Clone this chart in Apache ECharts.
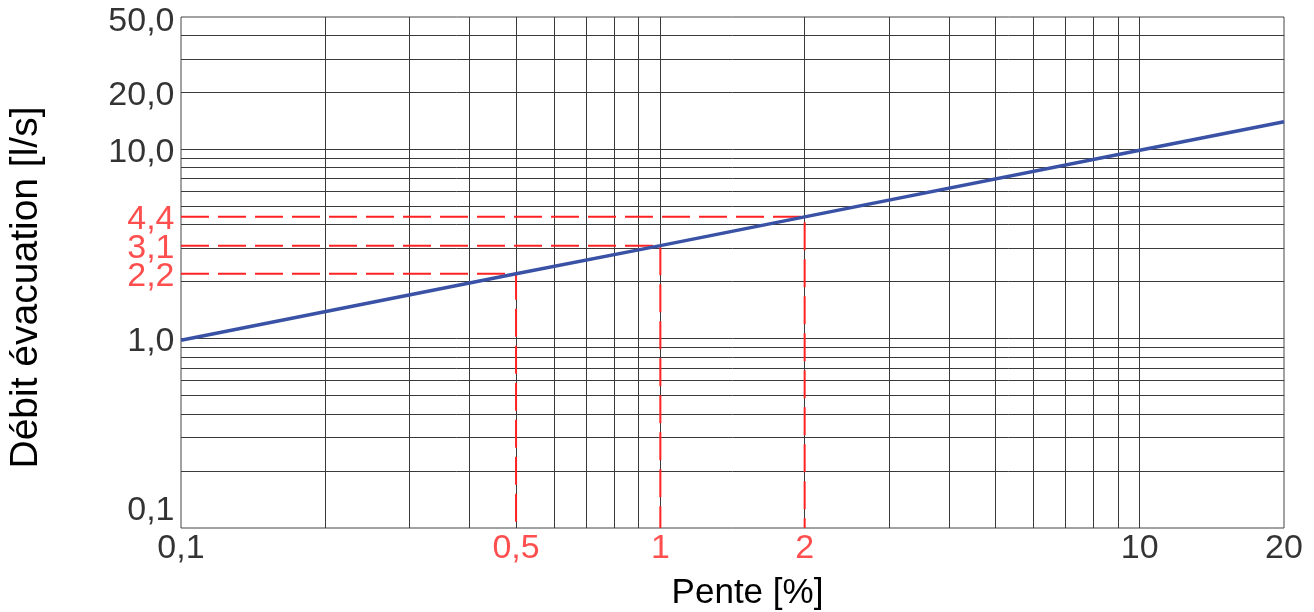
<!DOCTYPE html>
<html>
<head>
<meta charset="utf-8">
<script src="https://cdn.jsdelivr.net/npm/echarts@6/dist/echarts.min.js"></script>
<style>html,body{margin:0;padding:0;background:#fff}#c{width:1314px;height:612px}</style>
</head>
<body>
<div id="c"></div>
<script>
// ---- data ----
const slope = [0.1, 0.5, 1, 2, 10, 20];          // Pente [%]
const flow  = [0.98, 2.2, 3.1, 4.4, 9.9, 14.0];  // Débit évacuation [l/s]
const guideX = [0.5, 1, 2];
const guideY = [2.2, 3.1, 4.4];
const xTicks = [0.1, 0.5, 1, 2, 10, 20];
const xTickLabels = ['0,1', '0,5', '1', '2', '10', '20'];
const yTicks = [0.1, 1, 2.2, 3.1, 4.4, 10, 20, 50];
const yTickLabels = ['0,1', '1,0', '2,2', '3,1', '4,4', '10,0', '20,0', '50,0'];
const xGrid = [0.2, 0.3, 0.4, 0.5, 0.6, 0.7, 0.8, 0.9, 1, 2, 3, 4, 5, 6, 7, 8, 9, 10];
const yGrid = [0.2, 0.3, 0.4, 0.5, 0.6, 0.7, 0.8, 0.9, 1, 2, 3, 4, 5, 6, 7, 8, 9, 10, 20, 30, 40];
const xRange = [0.1, 20];
const yRange = [0.1, 50];

// ---- styles ----
const FONT = "'Liberation Sans', Arial, sans-serif";
const RED = '#FF2222';
const BLUE = '#3A52A6';
const GRIDC = '#3a3a3a';

const chart = echarts.init(document.getElementById('c'), null, {renderer: 'canvas'});

const series = [];

// grid lines
series.push({
  type: 'line', z: 1, data: [[xRange[0], yRange[0]]], symbol: 'none', lineStyle: {opacity: 0}, silent: true,
  markLine: {
    silent: true, symbol: ['none', 'none'], label: {show: false}, z: 1,
    lineStyle: {type: 'solid', color: GRIDC, width: 1},
    data: xGrid.map(v => ({xAxis: v})).concat(yGrid.map(v => ({yAxis: v})))
  }
});

// red guides
guideX.forEach((gx, i) => {
  series.push({
    type: 'line', symbol: 'none', silent: true, z: 5,
    data: [[xRange[0], guideY[i]], [gx, guideY[i]], [gx, yRange[0]]],
    lineStyle: {color: RED, width: 2, type: [28, 9]}
  });
});

// main curve
series.push({
  type: 'line', symbol: 'none', silent: true, z: 6,
  data: slope.map((s, i) => [s, flow[i]]),
  lineStyle: {color: BLUE, width: 3.5}
});

const labelBase = {show: true, fontFamily: FONT, fontSize: 34};

// x tick labels
series.push({
  type: 'scatter', symbolSize: 1, itemStyle: {color: 'rgba(0,0,0,0)'}, clip: false, silent: true, z: 7,
  data: xTicks.map((v, i) => ({
    value: [v, yRange[0]],
    label: Object.assign({}, labelBase, {
      position: 'bottom', distance: 3,
      formatter: xTickLabels[i],
      color: guideX.includes(v) ? RED : '#000'
    })
  }))
});

// y tick labels
series.push({
  type: 'scatter', symbolSize: 1, itemStyle: {color: 'rgba(0,0,0,0)'}, clip: false, silent: true, z: 7,
  data: yTicks.map((v, i) => {
    let off = [0, 3];
    if (v === yRange[0]) off = [0, -17];
    if (v === yRange[1]) off = [0, 5];
    return {
      value: [xRange[0], v],
      label: Object.assign({}, labelBase, {
        position: 'left', distance: 6, offset: off,
        formatter: yTickLabels[i],
        color: guideY.includes(v) ? RED : '#000'
      })
    };
  })
});

chart.setOption({
  animation: false,
  backgroundColor: '#fff',
  grid: {left: 181, right: 30, top: 17, bottom: 84, show: true, borderColor: '#444', borderWidth: 1,
         backgroundColor: 'transparent', outerBoundsMode: 'none', containLabel: false},
  xAxis: {
    type: 'log', logBase: 10, min: xRange[0], max: xRange[1],
    axisLine: {show: false}, axisTick: {show: false}, axisLabel: {show: false}, splitLine: {show: false},
    name: 'Pente [%]', nameLocation: 'middle', nameGap: 48,
    nameTextStyle: {fontFamily: FONT, fontSize: 35, color: '#000', padding: [0, 0, 0, 30]}
  },
  yAxis: {
    type: 'log', logBase: 10, min: yRange[0], max: yRange[1],
    axisLine: {show: false}, axisTick: {show: false}, axisLabel: {show: false}, splitLine: {show: false},
    name: 'Débit évacuation [l/s]', nameLocation: 'middle', nameGap: 135, nameRotate: 90,
    nameTextStyle: {fontFamily: FONT, fontSize: 39, color: '#000', padding: [0, 30, 0, 0]}
  },
  series: series
});
</script>
</body>
</html>
